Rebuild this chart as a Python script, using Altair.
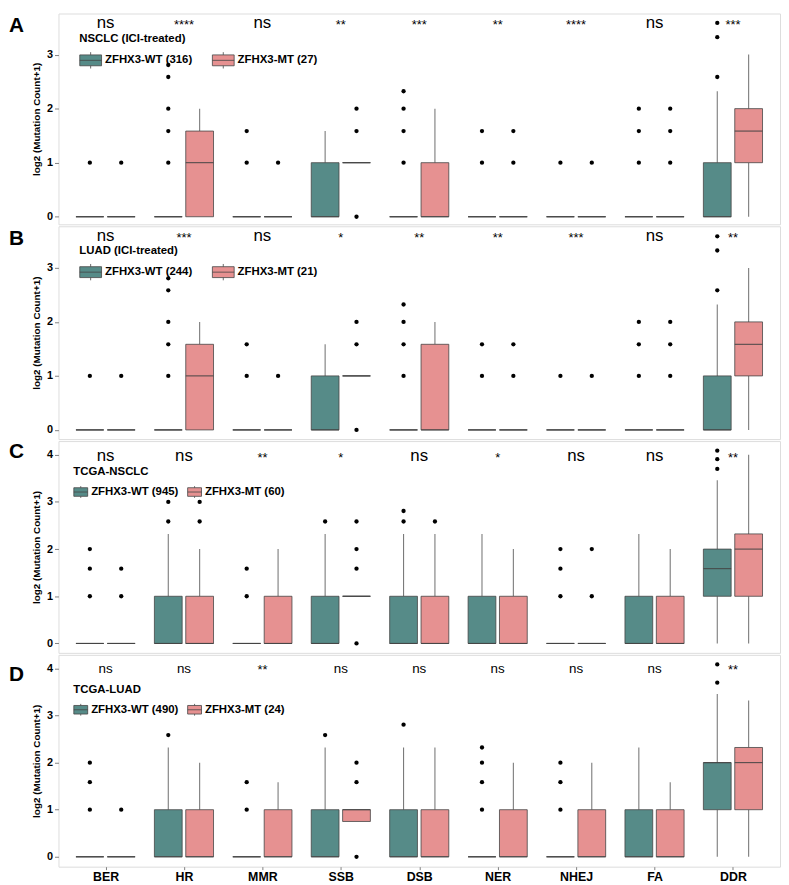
import altair as alt
import pandas as pd

# ---------------- data ----------------
categories = ["BER", "HR", "MMR", "SSB", "DSB", "NER", "NHEJ", "FA", "DDR"]
groups = ["WT", "MT"]
panel_letters = ["A", "B", "C", "D"]
cohorts = ["NSCLC (ICI-treated)", "LUAD (ICI-treated)", "TCGA-NSCLC", "TCGA-LUAD"]
wt_n = [316, 244, 945, 490]
mt_n = [27, 21, 60, 24]

# Panel A: NSCLC (ICI-treated)
a_wt_q1 = [0, 0, 0, 0, 0, 0, 0, 0, 0]
a_wt_med = [0, 0, 0, 0, 0, 0, 0, 0, 0]
a_wt_q3 = [0, 0, 0, 1, 0, 0, 0, 0, 1]
a_wt_lo = [0, 0, 0, 0, 0, 0, 0, 0, 0]
a_wt_hi = [0, 0, 0, 1.585, 0, 0, 0, 0, 2.322]
a_wt_out = [[1], [1, 1.585, 2, 2.585, 2.807], [1, 1.585], [], [1, 1.585, 2, 2.322],
            [1, 1.585], [1], [1, 1.585, 2], [2.585, 3.322, 3.585]]
a_mt_q1 = [0, 0, 0, 1, 0, 0, 0, 0, 1]
a_mt_med = [0, 1, 0, 1, 0, 0, 0, 0, 1.585]
a_mt_q3 = [0, 1.585, 0, 1, 1, 0, 0, 0, 2]
a_mt_lo = [0, 0, 0, 1, 0, 0, 0, 0, 0]
a_mt_hi = [0, 2, 0, 1, 2, 0, 0, 0, 3]
a_mt_out = [[1], [], [1], [0, 1.585, 2], [], [1, 1.585], [1], [1, 1.585, 2], []]
a_sig = ["ns", "****", "ns", "**", "***", "**", "****", "ns", "***"]

# Panel B: LUAD (ICI-treated)
b_wt_q1 = [0, 0, 0, 0, 0, 0, 0, 0, 0]
b_wt_med = [0, 0, 0, 0, 0, 0, 0, 0, 0]
b_wt_q3 = [0, 0, 0, 1, 0, 0, 0, 0, 1]
b_wt_lo = [0, 0, 0, 0, 0, 0, 0, 0, 0]
b_wt_hi = [0, 0, 0, 1.585, 0, 0, 0, 0, 2.322]
b_wt_out = [[1], [1, 1.585, 2, 2.585, 2.807], [1, 1.585], [], [1, 1.585, 2, 2.322],
            [1, 1.585], [1], [1, 1.585, 2], [2.585, 3.322, 3.585]]
b_mt_q1 = [0, 0, 0, 1, 0, 0, 0, 0, 1]
b_mt_med = [0, 1, 0, 1, 0, 0, 0, 0, 1.585]
b_mt_q3 = [0, 1.585, 0, 1, 1.585, 0, 0, 0, 2]
b_mt_lo = [0, 0, 0, 1, 0, 0, 0, 0, 0]
b_mt_hi = [0, 2, 0, 1, 2, 0, 0, 0, 3]
b_mt_out = [[1], [], [1], [0, 1.585, 2], [], [1, 1.585], [1], [1, 1.585, 2], []]
b_sig = ["ns", "***", "ns", "*", "**", "**", "***", "ns", "**"]

# Panel C: TCGA-NSCLC
c_wt_q1 = [0, 0, 0, 0, 0, 0, 0, 0, 1]
c_wt_med = [0, 0, 0, 0, 0, 0, 0, 0, 1.585]
c_wt_q3 = [0, 1, 0, 1, 1, 1, 0, 1, 2]
c_wt_lo = [0, 0, 0, 0, 0, 0, 0, 0, 0]
c_wt_hi = [0, 2.322, 0, 2.322, 2.322, 2.322, 0, 2.322, 3.459]
c_wt_out = [[1, 1.585, 2], [2.585, 3], [1, 1.585], [2.585], [2.585, 2.807],
            [], [1, 1.585, 2], [], [3.700, 3.907, 4.087]]
c_mt_q1 = [0, 0, 0, 1, 0, 0, 0, 0, 1]
c_mt_med = [0, 0, 0, 1, 0, 0, 0, 0, 2]
c_mt_q3 = [0, 1, 1, 1, 1, 1, 0, 1, 2.322]
c_mt_lo = [0, 0, 0, 1, 0, 0, 0, 0, 0]
c_mt_hi = [0, 2, 2, 1, 2.322, 2, 0, 2, 4]
c_mt_out = [[1, 1.585], [2.585, 3], [], [0, 1.585, 2, 2.585], [2.585], [], [1, 2], [], []]
c_sig = ["ns", "ns", "**", "*", "ns", "*", "ns", "ns", "**"]

# Panel D: TCGA-LUAD
d_wt_q1 = [0, 0, 0, 0, 0, 0, 0, 0, 1]
d_wt_med = [0, 0, 0, 0, 0, 0, 0, 0, 2]
d_wt_q3 = [0, 1, 0, 1, 1, 0, 0, 1, 2]
d_wt_lo = [0, 0, 0, 0, 0, 0, 0, 0, 0]
d_wt_hi = [0, 2.322, 0, 2.322, 2.322, 0, 0, 2.322, 3.459]
d_wt_out = [[1, 1.585, 2], [2.585], [1, 1.585], [2.585], [2.807],
            [1, 1.585, 2, 2.322], [1, 1.585, 2], [], [3.700, 4.087]]
d_mt_q1 = [0, 0, 0, 0.75, 0, 0, 0, 0, 1]
d_mt_med = [0, 0, 0, 1, 0, 0, 0, 0, 2]
d_mt_q3 = [0, 1, 1, 1, 1, 1, 1, 1, 2.322]
d_mt_lo = [0, 0, 0, 0.75, 0, 0, 0, 0, 0]
d_mt_hi = [0, 2, 1.585, 1, 2.322, 2, 2, 1.585, 3.322]
d_mt_out = [[1], [], [], [0, 1.585, 2], [], [], [], [], []]
d_sig = ["ns", "ns", "**", "ns", "ns", "ns", "ns", "ns", "**"]

# ---------------- style ----------------
FONT = "Liberation Sans"
TEAL = "#568B88"
PINK = "#E69191"
EDGE = "#444444"
WHISK = "#7a7a7a"
GRID_GREY = "#808080"

X_EXPR = "datum.ci + (datum.group == 'WT' ? -0.2 : 0.2)"
HALF_BOX = 0.177

label_expr = "[" + ",".join("'%s'" % c for c in categories) + "][datum.value]"


def make_panel(idx, wt, mt, wt_out, mt_out, sig, ydom, ymax_tick, height,
               show_x, leg, sig_y, ns_size, letter_y):
    rows = []
    for gname, st in (("WT", wt), ("MT", mt)):
        q1, med, q3, lo, hi = st
        for ci, cat in enumerate(categories):
            rows.append(dict(cat=cat, ci=ci, group=gname, q1=q1[ci], med=med[ci],
                             q3=q3[ci], lo=lo[ci], hi=hi[ci]))
    box_df = pd.DataFrame(rows)

    orows = []
    for gname, outs in (("WT", wt_out), ("MT", mt_out)):
        for ci, vals in enumerate(outs):
            for v in vals:
                orows.append(dict(ci=ci, group=gname, value=v))
    out_df = pd.DataFrame(orows)

    sig_df = pd.DataFrame(dict(ci=list(range(len(categories))), label=sig))
    letter_df = pd.DataFrame(dict(letter=[panel_letters[idx]]))

    xscale = alt.Scale(domain=[-0.6, len(categories) - 0.4], nice=False, zero=False)
    yscale = alt.Scale(domain=ydom, nice=False, zero=False)
    if show_x:
        xaxis = alt.Axis(values=list(range(len(categories))), labelExpr=label_expr,
                         title=None, grid=False, domain=False, tickColor=GRID_GREY,
                         tickSize=3, labelFont=FONT, labelFontSize=12.5,
                         labelFontWeight="bold", labelColor="black", labelPadding=1)
    else:
        xaxis = None
    yaxis = alt.Axis(values=list(range(ymax_tick + 1)), format="d", grid=False,
                     domain=False, tickColor=GRID_GREY, tickSize=4,
                     labelFont=FONT, labelFontSize=11, labelFontWeight="bold",
                     labelColor="black", labelPadding=2,
                     title="log2 (Mutation Count+1)", titleFont=FONT,
                     titleFontSize=10, titleFontWeight="bold", titleColor="black",
                     titlePadding=5)

    def X(field):
        return alt.X(field, type="quantitative", scale=xscale, axis=xaxis)

    def Y(field):
        return alt.Y(field, type="quantitative", scale=yscale, axis=yaxis)

    base = alt.Chart(box_df).transform_calculate(
        xc=X_EXPR,
        xl=X_EXPR + " - %f" % HALF_BOX,
        xr=X_EXPR + " + %f" % HALF_BOX,
    )

    whisk_lo = base.mark_rule(color=WHISK, strokeWidth=1.1).encode(
        x=X("xc"), y=Y("lo"), y2="q1:Q")
    whisk_hi = base.mark_rule(color=WHISK, strokeWidth=1.1).encode(
        x=X("xc"), y=Y("q3"), y2="hi:Q")

    legend = alt.Legend(
        orient="none", legendX=leg["x"], legendY=leg["y"], direction="horizontal",
        title=cohorts[idx], titleFont=FONT, titleFontSize=11.5, titleFontWeight="bold",
        titleColor="black", titlePadding=leg["tp"], titleAnchor="start",
        labelFont=FONT, labelFontSize=11.5, labelFontWeight="bold", labelColor="black",
        labelLimit=300,
        labelExpr="datum.value == 'WT' ? 'ZFHX3-WT (%d)' : 'ZFHX3-MT (%d)'" % (wt_n[idx], mt_n[idx]),
        symbolType=leg["path"], symbolSize=leg["size"], symbolStrokeColor=EDGE,
        symbolStrokeWidth=0.8, symbolOpacity=1, labelOffset=3,
        columnPadding=leg["cp"])

    box = base.mark_rect(stroke=EDGE, strokeWidth=0.8, opacity=1).encode(
        x=X("xl"), x2="xr:Q", y=Y("q1"), y2="q3:Q",
        fill=alt.Fill("group:N", scale=alt.Scale(domain=groups, range=[TEAL, PINK]),
                      legend=legend))
    med = base.mark_rule(color=EDGE, strokeWidth=1).encode(
        x=X("xl"), x2="xr:Q", y=Y("med"))

    outl = alt.Chart(out_df).transform_calculate(xc=X_EXPR).mark_circle(
        size=19, color="black", opacity=1).encode(x=X("xc"), y=Y("value"))

    ns_txt = alt.Chart(sig_df).transform_filter("datum.label == 'ns'").mark_text(
        font=FONT, fontSize=ns_size, baseline="alphabetic", align="center",
        color="black").encode(x=X("ci"), y=alt.value(sig_y), text="label:N")
    star_txt = alt.Chart(sig_df).transform_filter("datum.label != 'ns'").mark_text(
        font=FONT, fontSize=13, baseline="alphabetic", align="center",
        color="black").encode(x=X("ci"), y=alt.value(sig_y + 1), text="label:N")

    letter = alt.Chart(letter_df).mark_text(
        font=FONT, fontSize=21, fontWeight="bold", align="left", baseline="top",
        color="black").encode(x=alt.value(-50), y=alt.value(letter_y), text="letter:N")

    return alt.layer(whisk_lo, whisk_hi, box, med, outl, ns_txt, star_txt, letter).properties(
        width=729, height=height)


PATH_BIG = "M-1,-0.5H1V0.5H-1Z M-1,0H1 M0,-0.5V-0.75 M0,0.5V0.75"
PATH_SMALL = "M-1,-0.62H1V0.62H-1Z M-1,0H1 M0,-0.62V-0.85 M0,0.62V0.85"

pa = make_panel(0, (a_wt_q1, a_wt_med, a_wt_q3, a_wt_lo, a_wt_hi),
                (a_mt_q1, a_mt_med, a_mt_q3, a_mt_lo, a_mt_hi), a_wt_out, a_mt_out, a_sig,
                [-0.14, 3.76], 3, 213, False,
                dict(x=21, y=20, tp=4, path=PATH_BIG, size=484, cp=17), 15, 17, 2)
pb = make_panel(1, (b_wt_q1, b_wt_med, b_wt_q3, b_wt_lo, b_wt_hi),
                (b_mt_q1, b_mt_med, b_mt_q3, b_mt_lo, b_mt_hi), b_wt_out, b_mt_out, b_sig,
                [-0.17, 3.77], 3, 215, False,
                dict(x=21, y=19, tp=4, path=PATH_BIG, size=484, cp=17), 15, 17, 2)
pc = make_panel(2, (c_wt_q1, c_wt_med, c_wt_q3, c_wt_lo, c_wt_hi),
                (c_mt_q1, c_mt_med, c_mt_q3, c_mt_lo, c_mt_hi), c_wt_out, c_mt_out, c_sig,
                [-0.2, 4.29], 4, 214, False,
                dict(x=15, y=25, tp=7, path=PATH_SMALL, size=196, cp=6), 20, 17, 0)
pd_ = make_panel(3, (d_wt_q1, d_wt_med, d_wt_q3, d_wt_lo, d_wt_hi),
                 (d_mt_q1, d_mt_med, d_mt_q3, d_mt_lo, d_mt_hi), d_wt_out, d_mt_out, d_sig,
                 [-0.21, 4.29], 4, 214, True,
                 dict(x=15, y=30, tp=6, path=PATH_SMALL, size=196, cp=6), 18, 13.5, 9)

chart = alt.vconcat(pa, pb, pc, pd_, spacing=0).resolve_scale(
    fill="independent", y="independent", x="independent"
).resolve_legend(fill="independent").properties(
    padding={"left": 0, "top": 0, "right": 0, "bottom": 0}
).configure_view(stroke=GRID_GREY, strokeWidth=1).configure(font=FONT)

chart.save("out.html", embed_options={"renderer": "svg", "actions": False})
